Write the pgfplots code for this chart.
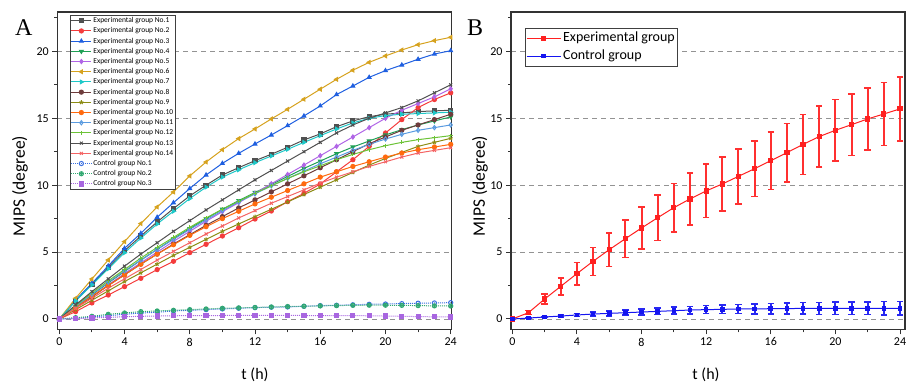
\documentclass[border=0pt]{standalone}
\usepackage{pgfplots}
\usepackage{pgfplotstable}
\pgfplotsset{compat=1.18}
\usepackage{fontspec}
\setmainfont{Carlito}
\newfontfamily\timesf{Liberation Serif}

\definecolor{cA1}{HTML}{505050}
\definecolor{cA2}{HTML}{F43C3C}
\definecolor{cA3}{HTML}{1F5FE0}
\definecolor{cA4}{HTML}{1FA055}
\definecolor{cA5}{HTML}{B065E6}
\definecolor{cA6}{HTML}{D6A21E}
\definecolor{cA7}{HTML}{1EC8C8}
\definecolor{cA8}{HTML}{6E3C3C}
\definecolor{cA9}{HTML}{8C8C14}
\definecolor{cA10}{HTML}{FF6A0E}
\definecolor{cA11}{HTML}{5A9BE0}
\definecolor{cA12}{HTML}{6CC337}
\definecolor{cA13}{HTML}{505050}
\definecolor{cA14}{HTML}{F46464}
\definecolor{cC1}{HTML}{3A6FE0}
\definecolor{cC2}{HTML}{30A870}
\definecolor{cC3}{HTML}{A866E0}
\definecolor{cBr}{HTML}{FF2020}
\definecolor{cBre}{HTML}{FF3030}
\definecolor{cBb}{HTML}{1515F0}
\definecolor{cBbe}{HTML}{2828F2}

\pgfplotstableread{
t e1 e2 e3 e4 e5 e6 e7 e8 e9 e10 e11 e12 e13 e14
0 0 0 0 0 0 0 0 0 0 0 0 0 0 0
1 1.35 0.55 1.42 0.9 0.85 1.55 1.35 0.85 0.7 0.85 0.95 1.0 1.05 0.8
2 2.6 1.2 2.67 1.8 1.7 2.99 2.55 1.65 1.4 1.7 1.85 1.95 2.05 1.55
3 3.85 1.79 3.96 2.7 2.55 4.41 3.75 2.5 2.1 2.5 2.75 2.85 3.0 2.3
4 5.1 2.42 5.28 3.55 3.4 5.78 4.95 3.3 2.8 3.3 3.6 3.7 3.95 3.0
5 6.2 3.04 6.4 4.4 4.2 7.13 6.05 4.1 3.45 4.1 4.4 4.55 4.85 3.7
6 7.25 3.69 7.6 5.2 5.0 8.37 7.1 4.85 4.1 4.85 5.2 5.35 5.7 4.4
7 8.25 4.31 8.69 6.0 5.8 9.49 8.05 5.6 4.75 5.55 5.95 6.1 6.55 5.05
8 9.2 4.96 9.75 6.75 6.55 10.69 9.0 6.3 5.35 6.25 6.7 6.85 7.35 5.7
9 10.0 5.58 10.76 7.5 7.3 11.73 9.85 7.0 5.95 6.9 7.4 7.55 8.15 6.35
10 10.76 6.2 11.63 8.2 8.02 12.65 10.6 7.65 6.55 7.5 8.1 8.2 8.9 6.95
11 11.31 6.82 12.38 8.85 8.69 13.48 11.15 8.3 7.1 8.05 8.75 8.8 9.65 7.55
12 11.83 7.47 13.08 9.45 9.4 14.2 11.68 8.9 7.65 8.6 9.35 9.4 10.4 8.1
13 12.31 8.07 13.75 10.05 10.1 14.95 12.18 9.5 8.2 9.1 9.95 9.95 11.1 8.65
14 12.83 8.77 14.45 10.65 10.8 15.67 12.68 10.1 8.75 9.6 10.5 10.5 11.8 9.15
15 13.38 9.39 15.17 11.25 11.5 16.42 13.2 10.7 9.3 10.1 11.05 11.0 12.5 9.65
16 13.83 10.09 15.92 11.8 12.2 17.17 13.7 11.3 9.85 10.6 11.6 11.45 13.2 10.15
17 14.37 11.0 16.77 12.35 12.9 17.91 14.2 11.9 10.4 11.0 12.1 11.9 13.9 10.6
18 14.8 11.9 17.41 12.85 13.6 18.59 14.65 12.5 10.95 11.4 12.6 12.3 14.5 11.0
19 15.12 12.9 18.06 13.3 14.3 19.18 15.0 13.1 11.5 11.75 13.05 12.65 15.0 11.4
20 15.3 13.9 18.56 13.75 15.0 19.66 15.2 13.6 12.0 12.1 13.45 12.95 15.4 11.75
21 15.4 14.9 18.98 14.15 15.6 20.1 15.3 14.1 12.45 12.4 13.8 13.2 15.8 12.1
22 15.5 15.8 19.41 14.5 16.1 20.5 15.35 14.5 12.9 12.65 14.1 13.4 16.3 12.4
23 15.55 16.4 19.8 14.8 16.6 20.8 15.4 14.9 13.2 12.85 14.3 13.55 16.9 12.6
24 15.6 16.9 20.05 15.1 17.2 21.05 15.45 15.3 13.5 13.05 14.5 13.7 17.5 12.8
}\exptab

\pgfplotstableread{
t c1 c2 c3
0 0 0 0
1 0.05 0.1 0.02
2 0.15 0.2 0.08
3 0.25 0.35 0.12
4 0.35 0.45 0.17
5 0.45 0.55 0.2
6 0.5 0.6 0.22
7 0.6 0.65 0.24
8 0.65 0.7 0.25
9 0.7 0.75 0.26
10 0.75 0.8 0.26
11 0.8 0.83 0.27
12 0.85 0.86 0.27
13 0.88 0.9 0.27
14 0.9 0.93 0.27
15 0.95 0.95 0.26
16 1.0 0.98 0.26
17 1.03 1.0 0.25
18 1.06 1.02 0.25
19 1.1 1.03 0.24
20 1.12 1.03 0.22
21 1.15 1.02 0.2
22 1.18 1.0 0.18
23 1.2 0.98 0.16
24 1.22 0.97 0.15
}\ctltab

\pgfplotstableread{
t em ee cm ce
0 0 0 0 0
1 0.47 0.15 0.07 0.03
2 1.49 0.36 0.15 0.05
3 2.44 0.64 0.22 0.08
4 3.39 0.85 0.3 0.1
5 4.31 1.05 0.37 0.16
6 5.18 1.25 0.42 0.18
7 6.0 1.41 0.47 0.19
8 6.80 1.57 0.52 0.21
9 7.57 1.71 0.57 0.24
10 8.32 1.82 0.62 0.26
11 8.97 1.94 0.67 0.28
12 9.57 2.0 0.7 0.3
13 10.09 2.02 0.72 0.32
14 10.66 2.05 0.75 0.35
15 11.23 2.07 0.75 0.37
16 11.83 2.15 0.77 0.39
17 12.43 2.19 0.77 0.41
18 13.05 2.24 0.8 0.43
19 13.63 2.28 0.8 0.45
20 14.10 2.3 0.8 0.46
21 14.52 2.3 0.8 0.47
22 14.95 2.32 0.8 0.48
23 15.32 2.37 0.8 0.49
24 15.70 2.4 0.8 0.5
}\btab

\pgfplotsset{
  myaxis/.style={
    scale only axis, height=317.3bp,
    ymin=-0.77, ymax=22.94,
    ytick={0,5,10,15,20}, minor ytick={2.5,7.5,12.5,17.5,22.5},
    xtick={0,4,...,24}, minor xtick={2,6,...,22},
    tick align=outside, tick pos=left,
    major tick length=5bp, minor tick length=3bp,
    ymajorgrids,
    major grid style={gray!85, line width=0.8bp, dash pattern=on 5bp off 4bp},
    axis line style={line width=1.2bp, black!80},
    every tick/.append style={black!80, line width=1bp},
    tick label style={font=\fontsize{12bp}{14bp}\selectfont},
    /pgf/number format/assume math mode=true,
  },
  sA/.style={line width=1bp, mark size=2.1bp},
}

\begin{document}
\begin{tikzpicture}
\path[use as bounding box] (0,0) rectangle (906bp,385bp);

\begin{axis}[myaxis, at={(57.3bp,55.7bp)}, anchor=south west, width=394.4bp,
  xmin=-0.123, xmax=24.06,
  legend style={at={(0.032,0.9915)}, anchor=north west, draw=black!75, line width=0.7bp,
    font=\fontsize{7.5bp}{9bp}\selectfont, inner sep=0.6bp,
    nodes={text height=5.5bp, text depth=1.5bp, inner ysep=1.6bp, inner xsep=1.5bp},
    cells={anchor=west}},
  legend image code/.code={\draw[mark repeat=2,mark phase=2] plot coordinates {(0bp,0bp) (10bp,0bp) (20bp,0bp)};},
]
\addplot[sA, color=cA1, mark=square*] table[x=t,y=e1]{\exptab};
\addlegendentry{Experimental group No.1}
\addplot[sA, color=cA2, mark=*] table[x=t,y=e2]{\exptab};
\addlegendentry{Experimental group No.2}
\addplot[sA, color=cA3, mark=triangle*] table[x=t,y=e3]{\exptab};
\addlegendentry{Experimental group No.3}
\addplot[sA, color=cA4, mark=triangle*, mark options={rotate=180}] table[x=t,y=e4]{\exptab};
\addlegendentry{Experimental group No.4}
\addplot[sA, color=cA5, mark=diamond*] table[x=t,y=e5]{\exptab};
\addlegendentry{Experimental group No.5}
\addplot[sA, color=cA6, mark=triangle*, mark options={rotate=90}] table[x=t,y=e6]{\exptab};
\addlegendentry{Experimental group No.6}
\addplot[sA, color=cA7, mark=triangle*, mark options={rotate=-90}] table[x=t,y=e7]{\exptab};
\addlegendentry{Experimental group No.7}
\addplot[sA, color=cA8, mark=*] table[x=t,y=e8]{\exptab};
\addlegendentry{Experimental group No.8}
\addplot[sA, color=cA9, mark=star] table[x=t,y=e9]{\exptab};
\addlegendentry{Experimental group No.9}
\addplot[sA, color=cA10, mark=*] table[x=t,y=e10]{\exptab};
\addlegendentry{Experimental group No.10}
\addplot[sA, color=cA11, mark=diamond, mark options={fill=white}] table[x=t,y=e11]{\exptab};
\addlegendentry{Experimental group No.11}
\addplot[sA, color=cA12, mark=+] table[x=t,y=e12]{\exptab};
\addlegendentry{Experimental group No.12}
\addplot[sA, color=cA13, mark=x] table[x=t,y=e13]{\exptab};
\addlegendentry{Experimental group No.13}
\addplot[sA, color=cA14, mark=x] table[x=t,y=e14]{\exptab};
\addlegendentry{Experimental group No.14}
\addplot[sA, color=cC1, densely dotted, mark=o, mark options={solid, fill=white}] table[x=t,y=c1]{\ctltab};
\addlegendentry{Control group No.1}
\addplot[sA, color=cC2, densely dotted, mark=oplus, mark options={solid, fill=white}] table[x=t,y=c2]{\ctltab};
\addlegendentry{Control group No.2}
\addplot[sA, color=cC3, densely dotted, mark=square*, mark options={solid}] table[x=t,y=c3]{\ctltab};
\addlegendentry{Control group No.3}
\end{axis}

\begin{axis}[myaxis, at={(511bp,55.7bp)}, anchor=south west, width=394bp,
  xmin=-0.08, xmax=24.31,
  legend style={at={(0.0355,0.9496)}, anchor=north west, draw=black!75, line width=0.7bp,
    font=\fontsize{14bp}{16bp}\selectfont, inner sep=0.8bp,
    nodes={text height=10bp, text depth=3bp, inner ysep=2.5bp, inner xsep=2bp},
    cells={anchor=west}},
  legend image code/.code={\draw[mark repeat=2,mark phase=2] plot coordinates {(0bp,0bp) (17bp,0bp) (34bp,0bp)};},
]
\addplot[color=cBr, line width=1bp, mark=square*, mark size=2.1bp,
  error bars/y dir=both, error bars/y explicit,
  error bars/error bar style={draw=cBre, line width=2bp, solid},
  error bars/error mark options={draw=cBre, rotate=90, mark size=3.2bp, line width=1.5bp}]
  table[x=t, y=em, y error=ee]{\btab};
\addlegendentry{Experimental group}
\addplot[color=cBb, line width=1bp, mark=square*, mark size=1.8bp,
  error bars/y dir=both, error bars/y explicit,
  error bars/error bar style={draw=cBbe, line width=2bp, solid},
  error bars/error mark options={draw=cBbe, rotate=90, mark size=3.2bp, line width=1.5bp}]
  table[x=t, y=cm, y error=ce]{\btab};
\addlegendentry{Control group}
\end{axis}

\node[anchor=base west, inner sep=0] at (15bp,349bp) {\timesf\fontsize{24bp}{24bp}\selectfont A};
\node[anchor=base west, inner sep=0] at (467bp,349bp) {\timesf\fontsize{24bp}{24bp}\selectfont B};
\node[rotate=90, inner sep=0] at (20bp,199bp) {\fontsize{17.5bp}{19bp}\selectfont MIPS (degree)};
\node[rotate=90, inner sep=0] at (480bp,199bp) {\fontsize{17.5bp}{19bp}\selectfont MIPS (degree)};
\node[inner sep=0] at (255bp,10bp) {\fontsize{16bp}{18bp}\selectfont t (h)};
\node[inner sep=0] at (706bp,10bp) {\fontsize{16bp}{18bp}\selectfont t (h)};
\end{tikzpicture}
\end{document}
